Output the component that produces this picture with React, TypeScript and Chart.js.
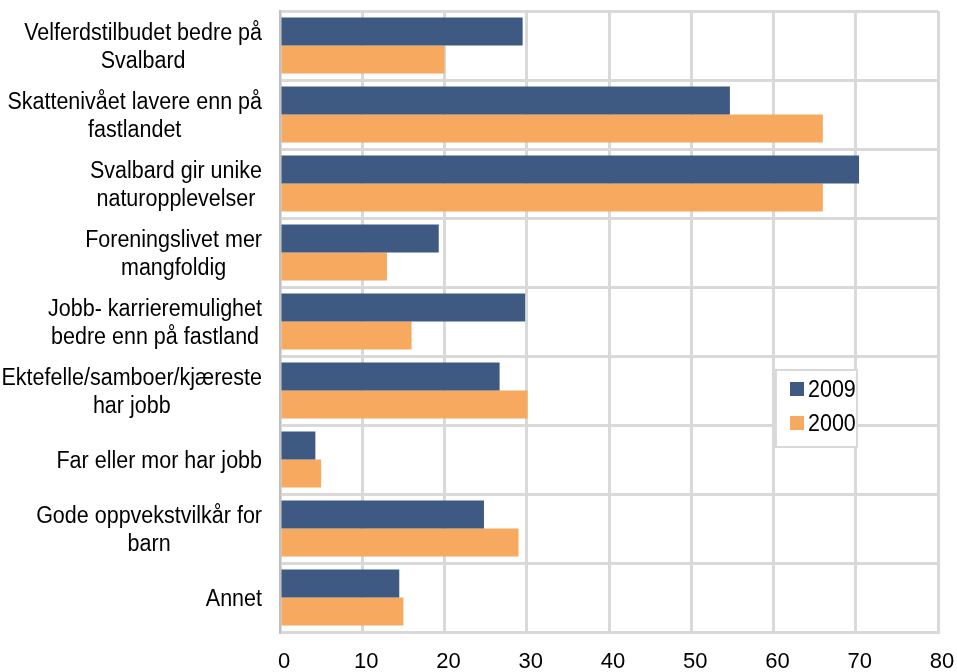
import React, { useEffect, useRef } from "react";
import { Chart, registerables } from "chart.js";

Chart.register(...registerables);

const categories: string[][] = [
  ["Velferdstilbudet bedre på", "Svalbard"],
  ["Skattenivået lavere enn på", "fastlandet"],
  ["Svalbard gir unike", "naturopplevelser"],
  ["Foreningslivet mer", "mangfoldig"],
  ["Jobb- karrieremulighet", "bedre enn på fastland"],
  ["Ektefelle/samboer/kjæreste", "har jobb"],
  ["Far eller mor har jobb"],
  ["Gode oppvekstvilkår for", "barn"],
  ["Annet"],
];

const series2009Label = "2009";
const series2000Label = "2000";
const values2009 = [29.5, 54.7, 70.4, 19.3, 29.8, 26.7, 4.3, 24.8, 14.5];
const values2000 = [20.0, 66.0, 66.0, 13.0, 16.0, 30.1, 5.0, 29.0, 15.0];

const xMin = 0;
const xMax = 80;
const xStep = 10;

const COLOR_2009 = "#3F5A82";
const COLOR_2000 = "#F6A95F";
const GRID = "#D9D9D9";
const FONT_FAMILY = '"Liberation Sans", Arial, sans-serif';

const yLabelPlugin = {
  id: "yLabelPlugin",
  afterDraw(chart: any) {
    const ctx = chart.ctx;
    const yScale = chart.scales.y;
    const area = chart.chartArea;
    const sy = 1.12;
    ctx.save();
    ctx.font = `21.5px ${FONT_FAMILY}`;
    ctx.fillStyle = "#000";
    ctx.textAlign = "center";
    ctx.textBaseline = "middle";
    const right = area.left - 18;
    const lh = 28;
    categories.forEach((lines, i) => {
      const yc = yScale.getPixelForValue(i) + 2;
      let w = 0;
      lines.forEach((l) => {
        w = Math.max(w, ctx.measureText(l).width);
      });
      const cx = right - w / 2;
      const start = yc - ((lines.length - 1) * lh) / 2;
      lines.forEach((l, j) => {
        const ty = start + j * lh;
        ctx.save();
        ctx.translate(cx, ty);
        ctx.scale(1, sy);
        ctx.fillText(l, 0, 0);
        ctx.restore();
      });
    });
    ctx.restore();
  },
};

const legendPlugin = {
  id: "boxLegend",
  afterDraw(chart: any) {
    const ctx = chart.ctx;
    const area = chart.chartArea;
    const bx = area.right - 162;
    const by = area.bottom - 262;
    const bw = 81;
    const bh = 77;
    ctx.save();
    ctx.fillStyle = "#fff";
    ctx.fillRect(bx, by, bw, bh);
    ctx.strokeStyle = GRID;
    ctx.lineWidth = 2;
    ctx.strokeRect(bx, by, bw, bh);
    ctx.font = `21.5px ${FONT_FAMILY}`;
    ctx.textAlign = "left";
    ctx.textBaseline = "middle";
    chart.data.datasets.forEach((ds: any, i: number) => {
      const cy = by + 19 + i * 34;
      ctx.fillStyle = ds.backgroundColor;
      ctx.fillRect(bx + 14, cy - 7, 14, 14);
      ctx.fillStyle = "#000";
      ctx.save();
      ctx.translate(bx + 32, cy + 1);
      ctx.scale(1, 1.12);
      ctx.fillText(ds.label, 0, 0);
      ctx.restore();
    });
    ctx.restore();
  },
};

export default function App() {
  const canvasRef = useRef<HTMLCanvasElement | null>(null);

  useEffect(() => {
    if (!canvasRef.current) return;
    const chart = new Chart(canvasRef.current, {
      type: "bar",
      data: {
        labels: categories.map((c) => c.join(" ")),
        datasets: [
          {
            label: series2009Label,
            data: values2009,
            backgroundColor: COLOR_2009,
            borderWidth: 0,
            categoryPercentage: 0.81,
            barPercentage: 1.0,
          },
          {
            label: series2000Label,
            data: values2000,
            backgroundColor: COLOR_2000,
            borderWidth: 0,
            categoryPercentage: 0.81,
            barPercentage: 1.0,
          },
        ],
      },
      options: {
        indexAxis: "y",
        animation: false,
        responsive: false,
        maintainAspectRatio: false,
        layout: { padding: { top: 11, right: 19, left: 0, bottom: 0 } },
        plugins: {
          legend: { display: false },
          tooltip: { enabled: false },
        },
        scales: {
          x: {
            type: "linear",
            min: xMin,
            max: xMax,
            position: "bottom",
            ticks: {
              stepSize: xStep,
              color: "#000",
              padding: 17,
              labelOffset: 4,
              font: { size: 22, family: FONT_FAMILY },
            },
            grid: { color: GRID, lineWidth: 3, drawTicks: false },
            border: { display: true, color: GRID, width: 3 },
            afterFit: (s: any) => {
              s.height = 40;
              s.paddingLeft = 0;
              s.paddingRight = 0;
            },
          },
          y: {
            type: "category",
            position: "left",
            ticks: { display: false },
            grid: { color: GRID, lineWidth: 3, drawTicks: false, offset: true },
            border: { display: true, color: "#BFBFBF", width: 2 },
            afterFit: (s: any) => {
              s.width = 280;
              s.paddingTop = 0;
              s.paddingBottom = 0;
            },
          },
        },
      },
      plugins: [yLabelPlugin, legendPlugin],
    } as any);
    return () => chart.destroy();
  }, []);

  return (
    <div style={{ position: "absolute", left: 0, top: 0, width: 957, height: 672, background: "#fff" }}>
      <canvas ref={canvasRef} width={957} height={672} style={{ display: "block" }} />
    </div>
  );
}
